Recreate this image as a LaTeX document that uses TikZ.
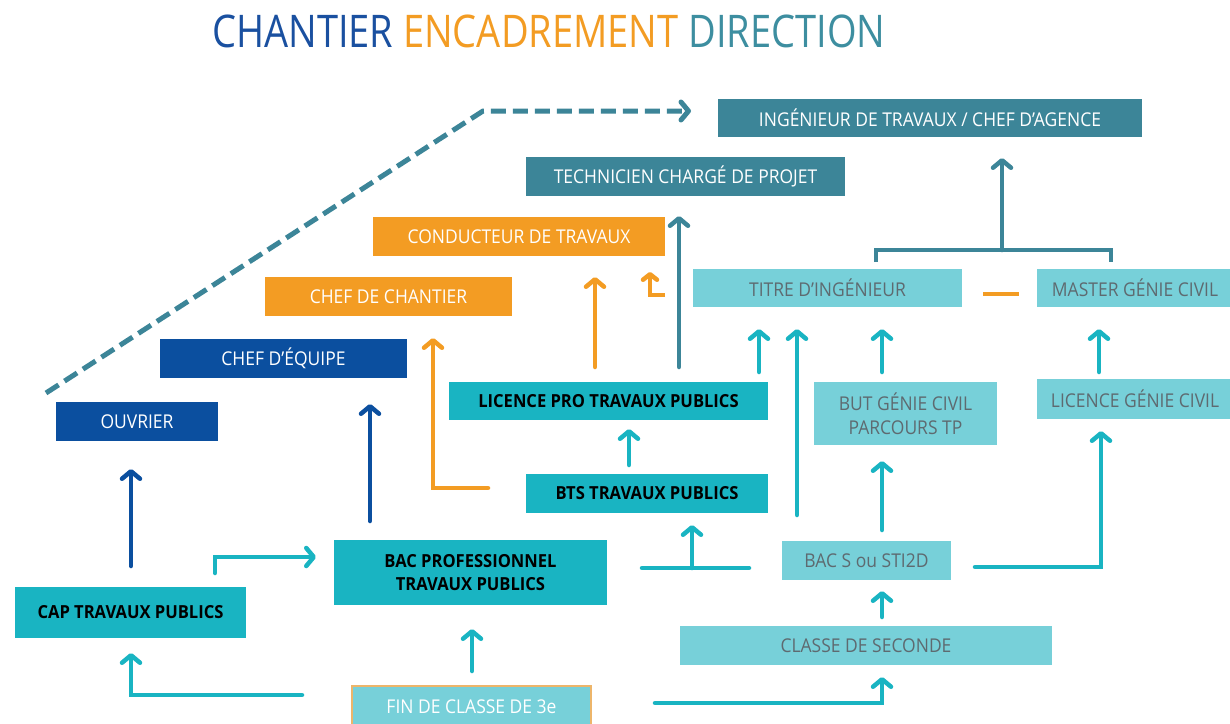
\documentclass[tikz,border=0pt]{standalone}
\usepackage{fontspec}
\setmainfont{Open Sans}[FakeStretch=0.92]
\newfontfamily\titlefont{Open Sans}[FakeStretch=0.845]
\usetikzlibrary{arrows.meta}
\definecolor{dteal}{HTML}{3C8598}
\definecolor{orng}{HTML}{F39C23}
\definecolor{dblue}{HTML}{0B4F9F}
\definecolor{teal2}{HTML}{19B4C2}
\definecolor{lteal}{HTML}{77D0D9}
\definecolor{gtext}{HTML}{5E6A70}
\definecolor{tblue}{HTML}{1A50A0}
\definecolor{tteal}{HTML}{3D8EA0}
\definecolor{finborder}{HTML}{EDB56A}
\tikzset{
  boxbase/.style={rectangle, inner sep=0pt, align=center, font=\fontsize{19}{24}\selectfont},
  dtbox/.style={boxbase, fill=dteal, text=white},
  orbox/.style={boxbase, fill=orng, text=white},
  dbbox/.style={boxbase, fill=dblue, text=white},
  tbox/.style={boxbase, fill=teal2, text=black, font=\fontsize{18}{23}\selectfont\bfseries},
  lbox/.style={boxbase, fill=lteal, text=gtext},
  conn/.style={line width=4.5pt, line cap=round, line join=miter},
  arr/.style={conn, -{Straight Barb[length=7.5pt,width=18pt,round]}},
  tarr/.style={arr, draw=teal2},
  tline/.style={conn, draw=teal2},
}
\begin{document}
\begin{tikzpicture}[x=1pt,y=-1pt]
\useasboundingbox (0,0) rectangle (1230,723);
\fill[white] (0,0) rectangle (1230,723);

% title
\node[anchor=base west, inner sep=0pt, font=\titlefont\fontsize{45}{50}\selectfont] (title) at (212,47)
  {\textcolor{tblue}{CHANTIER} \textcolor{orng}{ENCADREMENT} \textcolor{tteal}{DIRECTION}};

% boxes
\node[dtbox, minimum width=424pt, minimum height=38pt] (ing) at (930,118) {INGÉNIEUR DE TRAVAUX / CHEF D’AGENCE};
\node[dtbox, minimum width=319pt, minimum height=39pt] (tech) at (685.5,176.5) {TECHNICIEN CHARGÉ DE PROJET};
\node[orbox, minimum width=292pt, minimum height=39pt] (cond) at (519,236.5) {CONDUCTEUR DE TRAVAUX};
\node[orbox, minimum width=247pt, minimum height=39pt] (chant) at (388.5,296.5) {CHEF DE CHANTIER};
\node[dbbox, minimum width=247pt, minimum height=39pt] (equipe) at (283.5,358.5) {CHEF D’ÉQUIPE};
\node[dbbox, minimum width=162pt, minimum height=39pt] (ouvrier) at (137,421.5) {OUVRIER};
\node[tbox, minimum width=319pt, minimum height=38pt] (lpro) at (608.5,401) {LICENCE PRO TRAVAUX PUBLICS};
\node[tbox, minimum width=242pt, minimum height=39pt] (bts) at (647,493.5) {BTS TRAVAUX PUBLICS};
\node[tbox, minimum width=273pt, minimum height=65pt] (bacpro) at (470.5,572.5) {BAC PROFESSIONNEL\\TRAVAUX PUBLICS};
\node[tbox, minimum width=231pt, minimum height=51pt] (cap) at (130.5,612.5) {CAP TRAVAUX PUBLICS};
\node[lbox, text=white, draw=finborder, line width=2.5pt, minimum width=239pt, minimum height=42pt, anchor=north] (fin) at (471.5,684.5) {FIN DE CLASSE DE 3e};
\node[lbox, minimum width=269pt, minimum height=38pt] (titre) at (827.5,288) {TITRE D’INGÉNIEUR};
\node[lbox, minimum width=196pt, minimum height=38pt] (master) at (1135,288) {MASTER GÉNIE CIVIL};
\node[lbox, minimum width=183pt, minimum height=63pt] (but) at (905.5,413.5) {BUT GÉNIE CIVIL\\PARCOURS TP};
\node[lbox, minimum width=196pt, minimum height=40pt] (licgc) at (1135,399) {LICENCE GÉNIE CIVIL};
\node[lbox, minimum width=169pt, minimum height=39pt] (bacs) at (866.5,560.5) {BAC S ou STI2D};
\node[lbox, minimum width=372pt, minimum height=39pt] (seconde) at (866,645.5) {CLASSE DE SECONDE};

% coordinates for free connector ends
\coordinate (dA) at (46,393);
\coordinate (dB) at (483,111);
\coordinate (dC) at (691,111);
\coordinate (brL) at (876,262);
\coordinate (brR) at (1111,262);
\coordinate (brM) at (1002,250);
\coordinate (ingT) at (1002,158);

% dashed career line
\draw[conn, draw=dteal, line width=5pt, line cap=butt, dash pattern=on 15pt off 7pt, -{Straight Barb[length=7.5pt,width=18pt,round]}] (dA) -- (dB) -- (dC);

% bracket to ingenieur
\draw[conn, draw=dteal, line cap=butt] (brL) -- (876,250) -- (1111,250) -- (brR);
\draw[arr, draw=dteal] (brM) -- (ingT);

% orange dash between titre and master
\draw[line width=4pt, draw=orng] (983,294) -- (1019,294);

% licence pro up arrows
\draw[arr, draw=dteal] (679,367) -- (679,216);
\draw[arr, draw=orng] (595,367) -- (595,277);
\draw[conn, draw=orng, line cap=butt, -{Straight Barb[length=5.5pt,width=14pt,round]}] (665,295) -- (650,295) -- (650,272);
\draw[tarr] (759,372) -- (759,329);

% BTS -> chef de chantier
\draw[arr, draw=orng] (488,488) -- (433,488) -- (433,338);
% BTS / lpro
\draw[tarr] (629,465) -- (629,429);

% bac pro -> chef d'equipe
\draw[arr, draw=dblue] (370,521) -- (370,404);
% cap -> ouvrier
\draw[arr, draw=dblue] (131,566) -- (131,469);
% cap -> bac pro
\draw[tarr] (215,573) -- (215,557) -- (316,557);
% fin -> cap
\draw[tarr] (302,695) -- (131,695) -- (131,653);
% fin -> bac pro
\draw[tarr] (472,671) -- (472,629);
% fin -> seconde
\draw[tarr] (655,703) -- (882,703) -- (882,677);
% bac pro -> bts
\draw[tline] (642,568) -- (749,568);
\draw[tarr] (692,568) -- (692,525);
% long arrow to titre
\draw[tarr] (797,515) -- (797,329);
% seconde -> bac s
\draw[tarr] (882,617) -- (882,591);
% bac s -> but
\draw[tarr] (882,530) -- (882,461);
% but -> titre
\draw[tarr] (882,372) -- (882,329);
% bac s -> licence gc
\draw[tarr] (975,567) -- (1101,567) -- (1101,431);
% licence gc -> master
\draw[tarr] (1099,372) -- (1099,329);
\end{tikzpicture}
\end{document}
